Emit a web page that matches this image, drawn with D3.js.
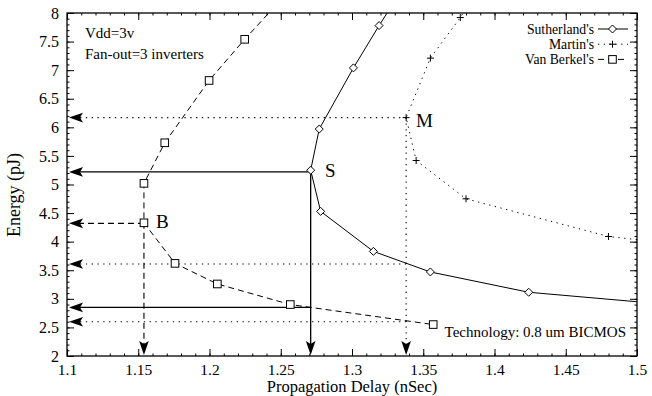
<!DOCTYPE html>
<html>
<head>
<meta charset="utf-8">
<script src="https://cdn.jsdelivr.net/npm/d3@7"></script>
<style>
  body { margin: 0; background: #fff; }
  svg { display: block; }
  svg text { font-family: "Liberation Serif", "Times New Roman", "DejaVu Serif", serif; fill: #000; }
</style>
</head>
<body>
<svg></svg>
<script>
const width = 652, height = 396
const margin = {top: 13, right: 15, bottom: 40, left: 67}

// series (propagation delay in nSec, energy in pJ); first/last points lie past the frame and get clipped
const sutherlandX = [1.34, 1.319, 1.301, 1.277, 1.271, 1.278, 1.315, 1.355, 1.424, 1.55]
const sutherlandY = [8.6, 7.78, 7.04, 5.97, 5.25, 4.53, 3.83, 3.47, 3.115, 2.84]
const martinX = [1.39, 1.376, 1.355, 1.338, 1.345, 1.38, 1.48, 1.55]
const martinY = [8.5, 7.92, 7.21, 6.17, 5.42, 4.75, 4.09, 3.9]
const berkelX = [1.26, 1.2247, 1.1997, 1.1686, 1.154, 1.154, 1.1758, 1.2055, 1.2567, 1.357]
const berkelY = [8.5, 7.54, 6.82, 5.73, 5.02, 4.33, 3.62, 3.26, 2.90, 2.55]

const xTicks = [1.1, 1.15, 1.2, 1.25, 1.3, 1.35, 1.4, 1.45, 1.5]
const yTicks = [2, 2.5, 3, 3.5, 4, 4.5, 5, 5.5, 6, 6.5, 7, 7.5, 8]

// read-off guides: horizontal ones go to the energy axis, vertical ones to the delay axis
const hGuideY = [6.17, 5.22, 4.32, 3.61, 2.85, 2.6]
const hGuideFromX = [1.338, 1.271, 1.154, 1.338, 1.271, 1.338]
const hGuideStyle = ["dot", "solid", "dash", "dot", "solid", "dot"]
const vGuideX = [1.154, 1.271, 1.338]
const vGuideFromY = [4.33, 5.25, 6.17]
const vGuideStyle = ["dash", "solid", "dot"]

const seriesNames = ["Sutherland's", "Martin's", "Van Berkel's"]

var svg = d3.select("svg")
    .attr("width", width)
    .attr("height", height);

const x = d3.scaleLinear().domain([1.1, 1.5]).range([margin.left, width - margin.right])
const y = d3.scaleLinear().domain([2, 8]).range([height - margin.bottom, margin.top])

const dashes = {solid: null, dot: "1.3,4.5", dash: "6,4"}

svg.append("clipPath").attr("id", "plotclip")
    .append("rect")
    .attr("x", x(1.1)).attr("y", y(8))
    .attr("width", x(1.5) - x(1.1)).attr("height", y(2) - y(8));

// frame with ticks on all four sides
const frame = svg.append("g");
const minorX = d3.range(1.1, 1.5001, 0.01)
const minorY = d3.range(2, 8.001, 0.1)

frame.append("g")
    .attr("transform", `translate(0,${y(2)})`)
    .call(d3.axisBottom(x).tickValues(minorX).tickSize(-2.5).tickFormat(""))
frame.append("g")
    .attr("transform", `translate(0,${y(8)})`)
    .call(d3.axisTop(x).tickValues(minorX).tickSize(-2.5).tickFormat(""))
frame.append("g")
    .attr("transform", `translate(${x(1.1)},0)`)
    .call(d3.axisLeft(y).tickValues(minorY).tickSize(-2.5).tickFormat(""))
frame.append("g")
    .attr("transform", `translate(${x(1.5)},0)`)
    .call(d3.axisRight(y).tickValues(minorY).tickSize(-2.5).tickFormat(""))

frame.append("g")
    .attr("class", "xaxis")
    .attr("transform", `translate(0,${y(2)})`)
    .call(d3.axisBottom(x).tickValues(xTicks).tickSize(-7).tickPadding(8).tickFormat(d3.format("")))
frame.append("g")
    .attr("transform", `translate(0,${y(8)})`)
    .call(d3.axisTop(x).tickValues(xTicks).tickSize(-7).tickFormat(""))
frame.append("g")
    .attr("class", "yaxis")
    .attr("transform", `translate(${x(1.1)},0)`)
    .call(d3.axisLeft(y).tickValues(yTicks).tickSize(-7).tickPadding(8).tickFormat(d3.format("")))
frame.append("g")
    .attr("transform", `translate(${x(1.5)},0)`)
    .call(d3.axisRight(y).tickValues(yTicks).tickSize(-7).tickFormat(""))

frame.selectAll(".domain").remove();
frame.selectAll("g").attr("font-family", null);
frame.selectAll("line").attr("stroke", "#000").attr("stroke-width", 1);
frame.selectAll("text")
    .attr("font-size", 16);
frame.select(".xaxis").selectAll("text").attr("font-size", 15.5);

frame.append("rect")
    .attr("x", x(1.1)).attr("y", y(8))
    .attr("width", x(1.5) - x(1.1)).attr("height", y(2) - y(8))
    .attr("fill", "none").attr("stroke", "#000").attr("stroke-width", 1.3);

// arrow head as a notched filled triangle, tip at (tx, ty), pointing along angle a
function arrowHead(tx, ty, a) {
    const len = 14, half = 4.8, notch = 3
    const c = Math.cos(a), s = Math.sin(a)
    const pt = (u, v) => [tx - u * c - v * s, ty - u * s + v * c]
    return "M" + [pt(0, 0), pt(len, -half), pt(len - notch, 0), pt(len, half)].map(p => p.join(",")).join("L") + "Z"
}

const guides = svg.append("g");
hGuideY.forEach((v, i) => {
    guides.append("line")
        .attr("x1", x(hGuideFromX[i])).attr("x2", x(1.1) + 8)
        .attr("y1", y(v)).attr("y2", y(v))
        .attr("stroke", "#000")
        .attr("stroke-width", hGuideStyle[i] == "solid" ? 1.3 : 1.1)
        .attr("stroke-dasharray", dashes[hGuideStyle[i]]);
    guides.append("path")
        .attr("d", arrowHead(x(1.1) + 2, y(v), Math.PI))
        .attr("fill", "#000");
});
vGuideX.forEach((v, i) => {
    guides.append("line")
        .attr("x1", x(v)).attr("x2", x(v))
        .attr("y1", y(vGuideFromY[i])).attr("y2", y(2) - 8)
        .attr("stroke", "#000")
        .attr("stroke-width", vGuideStyle[i] == "solid" ? 1.3 : 1.1)
        .attr("stroke-dasharray", dashes[vGuideStyle[i]]);
    guides.append("path")
        .attr("d", arrowHead(x(v), y(2) - 1, Math.PI / 2))
        .attr("fill", "#000");
});

// series
const line = d3.line().x(d => x(d[0])).y(d => y(d[1]))
const series = [
    {xs: sutherlandX, ys: sutherlandY, style: "solid", mark: "diamond"},
    {xs: martinX, ys: martinY, style: "dot", mark: "plus"},
    {xs: berkelX, ys: berkelY, style: "dash", mark: "square"},
]

function marker(g, mark, cx, cy) {
    if (mark == "diamond") {
        g.append("path").attr("d", `M${cx},${cy - 4}L${cx + 4},${cy}L${cx},${cy + 4}L${cx - 4},${cy}Z`)
            .attr("fill", "#fff").attr("stroke", "#000").attr("stroke-width", 1);
    } else if (mark == "square") {
        g.append("rect").attr("x", cx - 3.8).attr("y", cy - 3.8).attr("width", 7.6).attr("height", 7.6)
            .attr("fill", "#fff").attr("stroke", "#000").attr("stroke-width", 1);
    } else {
        g.append("path").attr("d", `M${cx - 3.5},${cy}H${cx + 3.5}M${cx},${cy - 3.5}V${cy + 3.5}`)
            .attr("stroke", "#000").attr("stroke-width", 1);
    }
}

const plot = svg.append("g").attr("clip-path", "url(#plotclip)");
series.forEach(s => {
    const pts = s.xs.map((v, i) => [v, s.ys[i]])
    plot.append("path")
        .attr("d", line(pts))
        .attr("fill", "none")
        .attr("stroke", "#000")
        .attr("stroke-width", 1)
        .attr("stroke-dasharray", dashes[s.style]);
    const mg = plot.append("g")
    pts.forEach(p => marker(mg, s.mark, x(p[0]), y(p[1])))
});

// legend
const legend = svg.append("g");
seriesNames.forEach((name, i) => {
    const ly = 29 + i * 15.2
    legend.append("text")
        .attr("x", 594).attr("y", ly + 4.5)
        .attr("text-anchor", "end")
        .attr("font-size", 13.7)
        .text(name);
    legend.append("line")
        .attr("x1", 598).attr("x2", 628)
        .attr("y1", ly).attr("y2", ly)
        .attr("stroke", "#000").attr("stroke-width", 1)
        .attr("stroke-dasharray", dashes[series[i].style]);
    marker(legend, series[i].mark, 612.5, ly);
});

// labels
svg.append("text").attr("x", 85).attr("y", 38).attr("font-size", 15).text("Vdd=3v");
svg.append("text").attr("x", 85).attr("y", 59).attr("font-size", 15).text("Fan-out=3 inverters");
svg.append("text").attr("x", 626).attr("y", 337).attr("text-anchor", "end").attr("font-size", 15)
    .text("Technology: 0.8 um BICMOS");
svg.append("text").attr("x", 325).attr("y", 177).attr("font-size", 19).text("S");
svg.append("text").attr("x", 416).attr("y", 127).attr("font-size", 19).text("M");
svg.append("text").attr("x", 156).attr("y", 228).attr("font-size", 19).text("B");

svg.append("text")
    .attr("x", (x(1.1) + x(1.5)) / 2).attr("y", 392.4)
    .attr("text-anchor", "middle").attr("font-size", 16.5)
    .text("Propagation Delay (nSec)");
svg.append("text")
    .attr("transform", "translate(20,195) rotate(-90)")
    .attr("text-anchor", "middle").attr("font-size", 18)
    .text("Energy (pJ)");
</script>
</body>
</html>
